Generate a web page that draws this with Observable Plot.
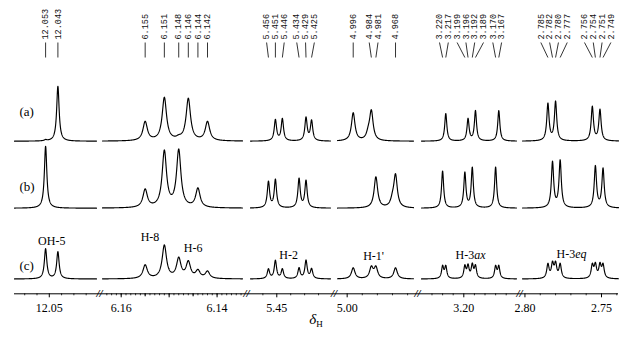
<!DOCTYPE html>
<html><head><meta charset="utf-8">
<script src="https://cdn.jsdelivr.net/npm/d3@7"></script>
<script src="https://cdn.jsdelivr.net/npm/@observablehq/plot@0.6"></script>
<style>body{margin:0;background:#fff} svg{display:block}</style>
</head><body><div id="chart"></div>
<script>
// ---- data: peak lists [ppm, height, half-width (ppm)] ----
const peaksA = [
  [12.043, 55, 0.0012], [12.053, 1, 0.0012],
  [6.155, 19, 0.00055], [6.151, 43, 0.00055], [6.148, 2, 0.0006], [6.146, 42, 0.00055], [6.142, 19, 0.00055],
  [5.451, 21, 0.001], [5.446, 22, 0.001], [5.429, 23, 0.001], [5.425, 20, 0.001],
  [4.996, 28, 0.0014], [4.986, 6, 0.0015], [4.984, 29, 0.0014],
  [3.217, 27.5, 0.0012], [3.196, 22, 0.0012], [3.189, 30, 0.0012], [3.167, 30.5, 0.0012],
  [2.785, 37, 0.0009], [2.780, 39, 0.0009], [2.756, 34, 0.0009], [2.751, 31, 0.0009]
];
const peaksB = [
  [12.053, 62, 0.0012],
  [6.155, 18, 0.00055], [6.151, 56, 0.00055], [6.148, 57, 0.00055], [6.144, 19, 0.00055],
  [5.456, 26, 0.001], [5.451, 28, 0.001], [5.434, 29, 0.001], [5.429, 27, 0.001],
  [4.981, 31, 0.0014], [4.970, 6, 0.0015], [4.968, 32, 0.0014],
  [3.220, 37, 0.0012], [3.199, 35, 0.0012], [3.192, 40, 0.0012], [3.170, 41, 0.0012],
  [2.782, 45.5, 0.0009], [2.777, 47, 0.0009], [2.754, 41.5, 0.0009], [2.749, 39, 0.0009]
];
const peaksC = [
  [12.053, 30, 0.0012], [12.043, 27, 0.0012],
  [6.155, 13.5, 0.00055], [6.151, 33, 0.00055], [6.148, 19.5, 0.00055], [6.146, 16, 0.00055], [6.144, 7.5, 0.00055], [6.142, 7, 0.00055],
  [5.456, 9.5, 0.001], [5.451, 18, 0.001], [5.446, 9.5, 0.001], [5.434, 10.5, 0.001], [5.429, 18, 0.001], [5.425, 9.5, 0.001],
  [4.996, 11, 0.0014], [4.984, 11, 0.0014], [4.981, 11, 0.0014], [4.968, 11, 0.0014],
  [3.220, 12, 0.0012], [3.217, 12, 0.0012], [3.199, 12, 0.0012], [3.196, 12, 0.0012], [3.192, 13, 0.0012], [3.189, 12, 0.0012], [3.170, 12, 0.0012], [3.167, 12, 0.0012],
  [2.785, 14, 0.0009], [2.782, 14, 0.0009], [2.780, 14, 0.0009], [2.777, 14, 0.0009], [2.756, 13, 0.0009], [2.754, 13, 0.0009], [2.751, 13, 0.0009], [2.749, 13, 0.0009]
];
const rowNames = ["(a)", "(b)", "(c)"];
const topLabels = ["12.053","12.043","6.155","6.151","6.148","6.146","6.144","6.142",
  "5.456","5.451","5.446","5.434","5.429","5.425","4.996","4.984","4.981","4.968",
  "3.220","3.217","3.199","3.196","3.192","3.189","3.170","3.167",
  "2.785","2.782","2.780","2.777","2.756","2.754","2.751","2.749"];
const groupNames = ["OH-5", "H-8", "H-6", "H-2", "H-1'", "H-3ax", "H-3eq"];
const groupPpm = [12.048, 6.154, 6.145, 5.4415, 4.9825, 3.1937, 2.7696];
const groupIntensity = [37.8, 41.8, 30.8, 23.5, 22.5, 23.5, 24.5];
const tickValues = [12.05, 6.16, 6.14, 5.45, 5.00, 3.20, 2.80, 2.75];
const tickLabels = ["12.05", "6.16", "6.14", "5.45", "5.00", "3.20", "2.80", "2.75"];
// axis segments (ppm windows of the broken axis)
const segments = [[12.0783, 12.0116], [6.1639, 6.1347], [5.4689, 5.4114], [5.0064, 4.9561], [3.2399, 3.1503], [2.8016, 2.7389]];

// ---- layout ----
const segPx = [[14, 96], [102, 242], [250, 330], [337, 413], [421, 516], [522, 618]];
const xDomain = segments.flat();
const xRange = segPx.flat();
const xs = d3.scaleLinear().domain(xDomain).range(xRange);
const H = 342;
const rows = [
  {peaks: peaksA, base: H - 140.7, label: H - 111.7},
  {peaks: peaksB, base: H - 207.7, label: H - 186.7},
  {peaks: peaksC, base: H - 278.5, label: H - 265}
];
const axisLevel = H - 293.3;

const lineData = [];
rows.forEach((r, ri) => segments.forEach((s, si) => {
  const N = 700;
  for (let i = 0; i <= N; i++) {
    const x = s[0] + (s[1] - s[0]) * i / N;
    let v = 0;
    for (const [p, h, w] of r.peaks) { const t = (x - p) / w; v += h / (1 + t * t); }
    lineData.push({key: ri + "-" + si, x, y: r.base + v});
  }
}));

// top labels spread apart
const lab = topLabels.map(s => ({text: s, ppm: +s, px: xs(+s)})).sort((a, b) => a.px - b.px);
const pos = lab.map(d => d.px);
const gap = 8.8;
for (let it = 0; it < 2000; it++) {
  for (let i = 0; i < pos.length - 1; i++) {
    const d = pos[i + 1] - pos[i];
    if (d < gap) { const m = (gap - d) / 2; pos[i] -= m; pos[i + 1] += m; }
  }
}
lab.forEach((d, i) => d.lx = xs.invert(pos[i]));

const minorTicks = [12.07, 12.06, 12.04, 12.03, 12.02,
  ...d3.range(6135, 6164).map(v => v / 1000),
  5.46, 5.44, 5.43, 5.42, 4.99, 4.98, 4.97, 4.96,
  3.23, 3.22, 3.21, 3.19, 3.18, 3.17, 3.16, 2.79, 2.78, 2.77, 2.76, 2.74];
const midTicks = [6.155, 6.145];
const majorTicks = [...tickValues, 6.15];
const breaks = segments.slice(0, -1).map((s, i) => (s[1] + segments[i + 1][0]) / 2);

const serif = "'Liberation Serif', 'Times New Roman', serif";
const chart = Plot.plot({
  width: 633, height: H, margin: 0,
  x: {type: "linear", domain: xDomain, range: xRange, axis: null},
  y: {domain: [0, H], range: [H, 0], axis: null},
  style: {background: "#fff", color: "#000"},
  marks: [
    Plot.line(lineData, {x: "x", y: "y", z: "key", stroke: "#000", strokeWidth: 1.15}),
    Plot.ruleY([axisLevel], {x1: xDomain[0], x2: xDomain[xDomain.length - 1], stroke: "#000", strokeWidth: 1}),
    Plot.ruleX(majorTicks, {x: d => d, y1: axisLevel, y2: axisLevel - 4, stroke: "#000"}),
    Plot.ruleX(midTicks, {x: d => d, y1: axisLevel, y2: axisLevel - 3, stroke: "#000"}),
    Plot.ruleX(minorTicks, {x: d => d, y1: axisLevel, y2: axisLevel - 2, stroke: "#000", strokeWidth: 0.8}),
    Plot.text(breaks, {x: d => d, y: axisLevel, text: () => "//", fontSize: 11, fontFamily: serif, fontStyle: "italic", fontWeight: "bold", fill: "#000"}),
    Plot.text(tickValues, {x: d => d, y: H - 308, text: (d, i) => tickLabels[i], fontSize: 12, fontFamily: serif, fill: "#000"}),
    Plot.link(lab, {x1: "lx", x2: "ppm", y1: H - 42, y2: H - 57, stroke: "#000", strokeWidth: 0.8}),
    Plot.text(lab, {x: "lx", y: H - 39, text: "text", rotate: -90, textAnchor: "start", fontFamily: "'Liberation Mono', 'DejaVu Sans Mono', monospace", fontSize: 8.5, fill: "#111"}),
    Plot.text(rows, {frameAnchor: "left", y: "label", text: (d, i) => rowNames[i], textAnchor: "start", dx: 19, fontSize: 13, fontFamily: serif, fill: "#000"}),
    Plot.text(groupNames, {x: (d, i) => groupPpm[i], y: (d, i) => rows[2].base + groupIntensity[i], text: d => d, fontSize: 12, fontFamily: serif, fill: "#000"}),
    Plot.text(["δH"], {frameAnchor: "bottom", dx: -1, dy: -19, text: d => d, fontSize: 14, fontFamily: serif, fill: "#000"})
  ]
});
document.getElementById("chart").appendChild(chart);
// rich text for italic parts
chart.querySelectorAll("text").forEach(t => {
  const s = t.textContent;
  if (s === "H-3ax") t.innerHTML = 'H-3<tspan font-style="italic">ax</tspan>';
  else if (s === "H-3eq") t.innerHTML = 'H-3<tspan font-style="italic">eq</tspan>';
  else if (s === "δH") t.innerHTML = '<tspan font-style="italic" font-size="15">δ</tspan><tspan font-size="9" dy="3">H</tspan>';
});
</script></body></html>
